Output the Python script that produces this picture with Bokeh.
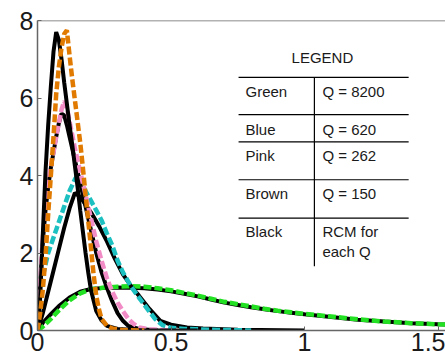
from bokeh.plotting import figure
from bokeh.models import FixedTicker, Span, Label
from bokeh.embed import file_html
from bokeh.resources import INLINE

# ---------------- data ----------------
x_ticks = [0, 0.5, 1, 1.5]
x_tick_labels = ["0", "0.5", "1", "1.5"]
y_ticks = [0, 2, 4, 6, 8]
y_tick_labels = ["0", "2", "4", "6", "8"]

# Green  Q = 8200
green_x = [0, 0.02, 0.05, 0.08, 0.12, 0.16, 0.20, 0.25, 0.30, 0.35, 0.40, 0.45, 0.50, 0.55, 0.60,
           0.65, 0.70, 0.75, 0.80, 0.85, 0.90, 0.95, 1.00, 1.10, 1.20, 1.30, 1.40, 1.50, 1.55]
green_y = [0, 0.10, 0.30, 0.52, 0.78, 0.96, 1.06, 1.11, 1.13, 1.14, 1.13, 1.09, 1.04, 0.97, 0.90,
           0.82, 0.74, 0.68, 0.62, 0.56, 0.51, 0.47, 0.43, 0.36, 0.29, 0.23, 0.19, 0.16, 0.15]
green_rcm_x = [0, 0.02, 0.05, 0.08, 0.12, 0.16, 0.20, 0.25, 0.30, 0.35, 0.40, 0.45, 0.50, 0.55, 0.60,
               0.65, 0.70, 0.75, 0.80, 0.85, 0.90, 0.95, 1.00, 1.10, 1.20, 1.30, 1.40, 1.50, 1.55]
green_rcm_y = [0, 0.20, 0.42, 0.63, 0.85, 1.00, 1.07, 1.10, 1.11, 1.10, 1.09, 1.06, 1.01, 0.95, 0.88,
               0.80, 0.72, 0.66, 0.60, 0.55, 0.50, 0.46, 0.42, 0.35, 0.28, 0.23, 0.19, 0.16, 0.15]

# Blue  Q = 620
blue_x = [0, 0.01, 0.02, 0.04, 0.06, 0.08, 0.10, 0.12, 0.14, 0.15, 0.16, 0.18, 0.20, 0.22, 0.24,
          0.26, 0.28, 0.30, 0.32, 0.35, 0.38, 0.41, 0.44, 0.47, 0.50, 0.55, 0.65, 0.80]
blue_y = [0, 0.70, 1.40, 2.00, 2.40, 2.80, 3.20, 3.60, 3.90, 4.00, 3.85, 3.60, 3.35, 3.10, 2.84,
          2.50, 2.20, 1.80, 1.50, 1.14, 0.85, 0.57, 0.30, 0.13, 0.07, 0.04, 0.02, 0.0]
blue_rcm_x = [0, 0.02, 0.04, 0.06, 0.08, 0.10, 0.12, 0.14, 0.16, 0.18, 0.20, 0.23, 0.26, 0.29,
              0.32, 0.35, 0.38, 0.42, 0.46, 0.50, 0.56, 0.62, 0.75, 1.0]
blue_rcm_y = [0, 0.45, 1.00, 1.55, 2.10, 2.65, 3.15, 3.55, 3.45, 3.25, 3.05, 2.70, 2.30, 1.85,
              1.45, 1.15, 0.90, 0.55, 0.25, 0.15, 0.08, 0.05, 0.02, 0.0]

# Pink  Q = 262
pink_x = [0, 0.01, 0.02, 0.03, 0.04, 0.05, 0.06, 0.07, 0.08, 0.09, 0.10, 0.11, 0.12, 0.14, 0.16,
          0.18, 0.20, 0.22, 0.24, 0.26, 0.28, 0.30, 0.32, 0.34, 0.36, 0.38, 0.42, 0.50]
pink_y = [0, 1.30, 2.40, 3.20, 3.80, 4.25, 4.60, 5.00, 5.35, 5.70, 5.92, 5.75, 5.40, 4.70, 4.10,
          3.50, 2.90, 2.30, 1.80, 1.35, 1.00, 0.72, 0.50, 0.30, 0.17, 0.08, 0.03, 0.0]
pink_rcm_x = [0, 0.01, 0.02, 0.03, 0.04, 0.05, 0.06, 0.07, 0.08, 0.09, 0.10, 0.11, 0.12, 0.14,
              0.16, 0.18, 0.20, 0.22, 0.24, 0.26, 0.28, 0.30, 0.32, 0.34, 0.38, 0.45]
pink_rcm_y = [0, 1.20, 2.30, 3.10, 3.70, 4.20, 4.60, 5.00, 5.35, 5.60, 5.55, 5.30, 5.00, 4.40,
              3.80, 3.20, 2.60, 2.00, 1.50, 1.10, 0.75, 0.45, 0.25, 0.12, 0.04, 0.0]

# Brown  Q = 150
brown_x = [0, 0.01, 0.02, 0.03, 0.04, 0.05, 0.06, 0.07, 0.08, 0.09, 0.10, 0.11, 0.12, 0.13, 0.14,
           0.15, 0.16, 0.17, 0.18, 0.19, 0.20, 0.21, 0.22, 0.23, 0.24, 0.26, 0.28, 0.32, 0.40]
brown_y = [0, 0.45, 1.05, 1.90, 3.00, 4.00, 5.00, 6.10, 6.80, 7.30, 7.65, 7.75, 7.10, 6.50, 5.95,
           5.40, 4.85, 4.20, 3.50, 2.84, 2.15, 1.45, 0.90, 0.55, 0.30, 0.12, 0.05, 0.01, 0.0]
brown_rcm_x = [0, 0.01, 0.02, 0.03, 0.04, 0.05, 0.06, 0.07, 0.08, 0.09, 0.10, 0.11, 0.12, 0.13,
               0.14, 0.15, 0.16, 0.17, 0.18, 0.19, 0.20, 0.22, 0.24, 0.26, 0.30, 0.40, 0.60]
brown_rcm_y = [0, 0.85, 2.50, 4.10, 5.30, 6.30, 7.20, 7.70, 7.50, 7.00, 6.40, 5.85, 5.30, 4.80,
               4.25, 3.70, 3.10, 2.55, 2.00, 1.50, 1.05, 0.50, 0.26, 0.12, 0.04, 0.0, 0.0]

# legend table
table_title = "LEGEND"
table_names = ["Green", "Blue", "Pink", "Brown", "Black"]
table_values = ["Q = 8200", "Q = 620", "Q = 262", "Q = 150", "RCM for"]
table_extra = "each Q"

FONT = "Liberation Sans"

p = figure(width=445, height=362, x_range=(0, 1.528), y_range=(0, 8),
           output_backend="svg", toolbar_location=None,
           min_border_left=37, min_border_right=0, min_border_top=20, min_border_bottom=32)
p.outline_line_color = None
p.grid.visible = False
p.background_fill_color = "white"
p.border_fill_color = "white"

for ax, ticks, labels in ((p.xaxis[0], x_ticks, x_tick_labels), (p.yaxis[0], y_ticks, y_tick_labels)):
    ax.ticker = FixedTicker(ticks=ticks)
    ax.major_label_overrides = {t: l for t, l in zip(ticks, labels)}
    ax.major_tick_in = 4
    ax.major_tick_out = 0
    ax.minor_tick_line_color = None
    ax.axis_line_color = "#666666"
    ax.axis_line_width = 1.5
    ax.major_tick_line_color = "#666666"
    ax.major_label_text_font = FONT
    ax.major_label_text_font_size = "25px"
    ax.major_label_text_color = "#1a1a1a"
p.xaxis.major_label_standoff = 2
p.yaxis.major_label_standoff = 4

p.add_layout(Span(location=8, dimension="width", line_color="#666666", line_width=1.5))

pairs = [
    (green_rcm_x, green_rcm_y, green_x, green_y, "#22e022"),
    (blue_rcm_x, blue_rcm_y, blue_x, blue_y, "#1cc0c0"),
    (pink_rcm_x, pink_rcm_y, pink_x, pink_y, "#f28cc6"),
    (brown_rcm_x, brown_rcm_y, brown_x, brown_y, "#e07a00"),
]
for rx, ry, cx, cy, col in pairs:
    p.line(rx, ry, line_color="black", line_width=4)
    p.line(cx, cy, line_color=col, line_width=4.5, line_dash="8 3")

# table geometry (data units)
t_left, t_mid, t_right = 0.753, 1.037, 1.390
row_lines = [6.53, 5.57, 4.87, 3.89, 2.90]
v_bottom = 1.66
p.segment(x0=[t_left] * len(row_lines), x1=[t_right] * len(row_lines), y0=row_lines, y1=row_lines,
          line_color="black", line_width=1.2)
p.segment(x0=[t_mid], x1=[t_mid], y0=[row_lines[0]], y1=[v_bottom], line_color="black", line_width=1.2)

def lab(x, y, text, align="left"):
    p.add_layout(Label(x=x, y=y, text=text, text_font=FONT, text_font_size="15px",
                       text_color="#1a1a1a", text_align=align, text_baseline="middle"))

lab(1.067, 7.045, table_title, "center")
name_ys = [6.168, 5.20, 4.516, 3.523, 2.542]
for nm, val, yy in zip(table_names, table_values, name_ys):
    lab(0.779, yy, nm)
    lab(1.067, yy, val)
lab(1.067, 2.039, table_extra)

open("out.html", "w").write(file_html(p, INLINE))
